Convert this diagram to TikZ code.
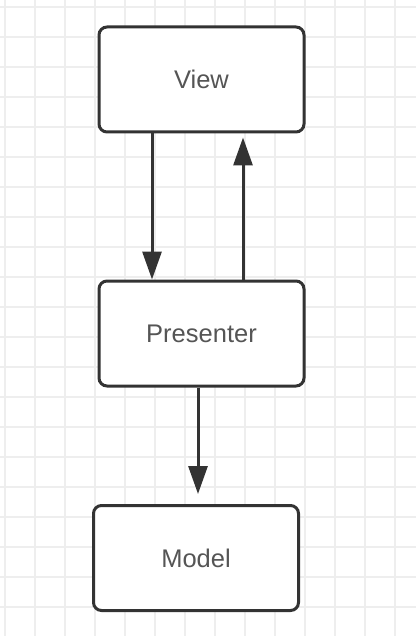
\documentclass[tikz,border=0pt]{standalone}
\usepackage{fontspec}
\setmainfont{Liberation Sans}
\usetikzlibrary{arrows.meta}
\tikzset{>={Triangle[length=28pt,width=19pt]}}
\definecolor{gridgray}{HTML}{EEEEEE}
\definecolor{boxline}{HTML}{333333}
\definecolor{labelgray}{HTML}{555555}

\begin{document}
\begin{tikzpicture}[x=1pt,y=-1pt]

%% styles
\tikzstyle{gridline}=[draw=gridgray, line width=1.5pt]

\tikzstyle{block}=[draw=boxline, fill=white, text=labelgray, text centered, rounded corners=8pt, line width=3pt, minimum width=205pt, minimum height=105pt, font=\fontsize{25.5}{30}\selectfont]

\tikzstyle{link}=[draw=boxline, line width=3pt]

%% background grid
\useasboundingbox (0,0) rectangle (416,636);
\fill[white] (0,0) rectangle (416,636);
\foreach \x in {5,35,...,415} \path[gridline] (\x,0) -- (\x,636);
\foreach \y in {7,37,...,636} \path[gridline] (0,\y) -- (416,\y);

%% blobs
\node(View)[style = block] at (201.5, 79.5)
{
View
};

\node(Presenter)[style = block] at (201.5, 333.5)
{
Presenter
};

\node(Model)[style = block] at (196, 558)
{
Model
};

%% arrows

\path [link, ->] ([xshift=-49.5pt]View.south) -- ([xshift=-49.5pt]Presenter.north);

\path [link, ->, shorten >=4pt] ([xshift=41.5pt]Presenter.north) -- ([xshift=41.5pt]View.south);

\path [link, ->, shorten >=10pt] ([xshift=-3.5pt]Presenter.south) -- ([xshift=2pt]Model.north);

\end{tikzpicture}
\end{document}
